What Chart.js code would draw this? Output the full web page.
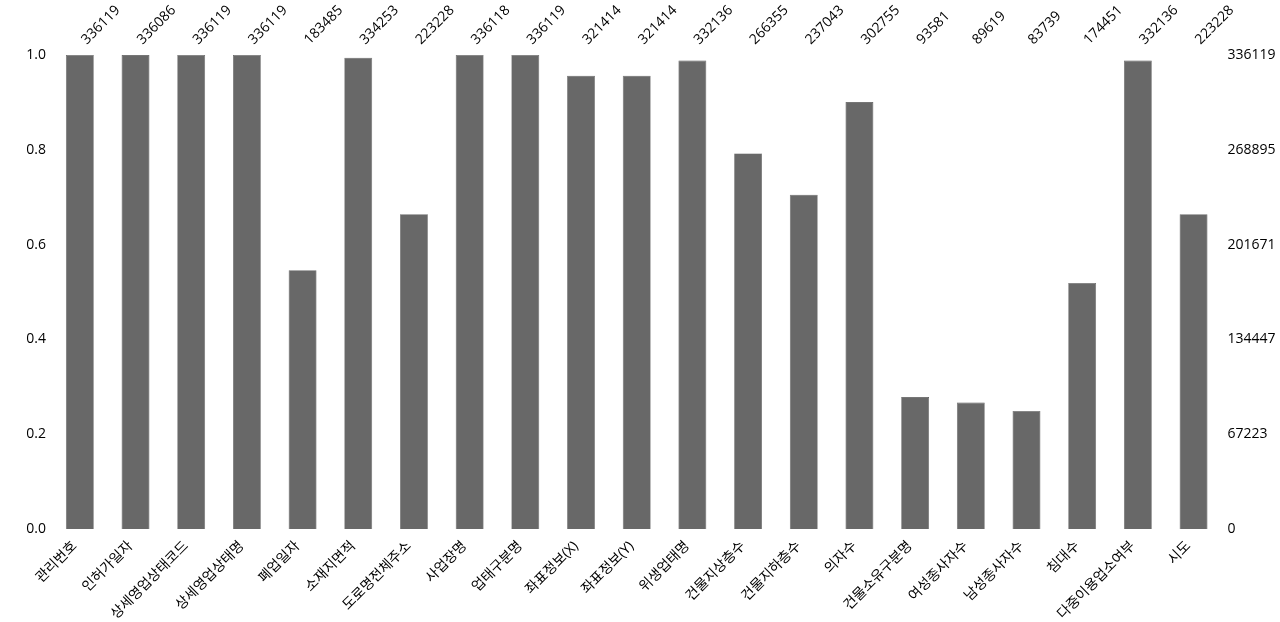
<!DOCTYPE html>
<html><head><meta charset="utf-8">
<script src="https://cdn.jsdelivr.net/npm/chart.js@4/dist/chart.umd.min.js"></script>
<style>html,body{margin:0;padding:0;background:#fff}#wrap{width:1280px;height:622px}</style>
</head><body><div id="wrap"><canvas id="c" width="1280" height="622"></canvas></div>
<script>
const categories = ["관리번호","인허가일자","상세영업상태코드","상세영업상태명","폐업일자","소재지면적","도로명전체주소","사업장명","업태구분명","좌표정보(X)","좌표정보(Y)","위생업태명","건물지상층수","건물지하층수","의자수","건물소유구분명","여성종사자수","남성종사자수","침대수","다중이용업소여부","시도"];
const counts = [336119,336086,336119,336119,183485,334253,223228,336118,336119,321414,321414,332136,266355,237043,302755,93581,89619,83739,174451,332136,223228];
const totalRows = 336119;
const leftTicks = [0,0.2,0.4,0.6,0.8,1.0];
const rightTicks = [0,67223,134447,201671,268895,336119];

const fracs = counts.map(v => v / totalRows);
const FONT = {family:"'Open Sans','Noto Sans CJK KR',sans-serif", size:14};
const GRID = {display:false, drawTicks:false};

new Chart(document.getElementById('c'), {
  type:'bar',
  data:{labels:categories, datasets:[{data:fracs, backgroundColor:'#686868', borderColor:'#505050', borderWidth:0.6, barPercentage:0.5, categoryPercentage:1.0, yAxisID:'y', xAxisID:'x'}]},
  options:{
    responsive:false, animation:false,
    layout:{padding:0},
    plugins:{legend:{display:false}, tooltip:{enabled:false}},
    scales:{
      x:{position:'bottom', offset:true, grid:GRID, border:{display:false},
         ticks:{color:'#000', font:FONT, minRotation:45, maxRotation:45, autoSkip:false, padding:9, labelOffset:-5},
         afterFit:s=>{s.height=93;}},
      x2:{type:'category', labels:counts.map(String), position:'top', offset:true, grid:GRID, border:{display:false},
         ticks:{color:'#000', font:FONT, minRotation:45, maxRotation:45, autoSkip:false, padding:7, labelOffset:16},
         afterFit:s=>{s.height=55;}},
      y:{position:'left', min:0, max:1, grid:GRID, border:{display:false},
         afterBuildTicks:s=>{s.ticks=leftTicks.map(v=>({value:v}));},
         ticks:{color:'#000', font:FONT, padding:6, callback:v=>Number(v).toFixed(1)},
         afterFit:s=>{s.width=52;}},
      y2:{position:'right', min:0, max:totalRows, grid:GRID, border:{display:false},
         afterBuildTicks:s=>{s.ticks=rightTicks.map(v=>({value:v}));},
         ticks:{color:'#000', font:FONT, padding:6, callback:v=>String(v)},
         afterFit:s=>{s.width=58.6;}}
    }
  }
});
</script></body></html>
